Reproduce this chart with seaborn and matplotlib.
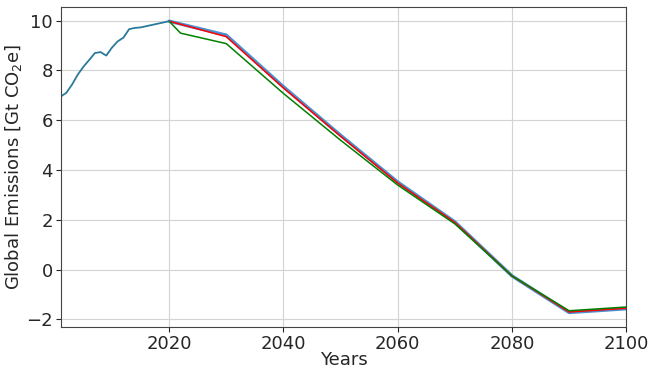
import matplotlib
matplotlib.use("Agg")
import matplotlib.pyplot as plt
import seaborn as sns
import pandas as pd

# historical emissions
hist_years = [2001, 2002, 2003, 2004, 2005, 2006, 2007, 2008, 2009, 2010,
              2011, 2012, 2013, 2014, 2015, 2016, 2017, 2018, 2019, 2020]
hist_values = [6.95, 7.1, 7.43, 7.83, 8.15, 8.42, 8.7, 8.74, 8.6, 8.92,
               9.17, 9.32, 9.66, 9.71, 9.73, 9.78, 9.83, 9.88, 9.93, 9.98]

# scenario pathways
blue_years = [2020, 2030, 2040, 2050, 2060, 2070, 2080, 2090, 2100]
blue_values = [9.98, 9.42, 7.35, 5.4, 3.52, 1.92, -0.25, -1.72, -1.57]
red_years = [2020, 2030, 2040, 2050, 2060, 2070, 2080, 2090, 2100]
red_values = [9.98, 9.36, 7.3, 5.36, 3.48, 1.9, -0.25, -1.7, -1.55]
green_years = [2020, 2022, 2030, 2040, 2050, 2060, 2070, 2080, 2090, 2100]
green_values = [9.98, 9.5, 9.08, 7.08, 5.2, 3.4, 1.84, -0.25, -1.65, -1.5]

hist_df = pd.DataFrame({'Years': hist_years, 'Emissions': hist_values})
blue_df = pd.DataFrame({'Years': blue_years, 'Emissions': blue_values})
red_df = pd.DataFrame({'Years': red_years, 'Emissions': red_values})
green_df = pd.DataFrame({'Years': green_years, 'Emissions': green_values})

sns.set_style("ticks")
plt.rcParams['font.family'] = ['DejaVu Sans']

fig, ax = plt.subplots(figsize=(6.51, 3.69), dpi=100)
fig.subplots_adjust(left=0.093, right=0.962, top=0.981, bottom=0.114)

sns.lineplot(x='Years', y='Emissions', data=blue_df, color='#4a90d0', linewidth=2.4, ax=ax)
sns.lineplot(x='Years', y='Emissions', data=red_df, color='red', linewidth=1.1, ax=ax)
sns.lineplot(x='Years', y='Emissions', data=green_df, color='green', linewidth=1.1, ax=ax)
sns.lineplot(x='Years', y='Emissions', data=hist_df, color='#2a7a9c', linewidth=1.3, ax=ax)

ax.set_xlim(2001, 2100)
ax.set_ylim(-2.3, 10.55)
ax.set_xticks([2020, 2040, 2060, 2080, 2100])
ax.set_yticks([-2, 0, 2, 4, 6, 8, 10])
ax.grid(True, color='#d3d3d3', linewidth=0.8)
ax.tick_params(labelsize=13, pad=2)
for s in ax.spines.values():
    s.set_color('#444444')
ax.set_xlabel('Years', fontsize=13, labelpad=-1)
ax.set_ylabel('Global Emissions [Gt CO$_2$e]', fontsize=13, labelpad=2)

plt.savefig('out.png', dpi=100)
